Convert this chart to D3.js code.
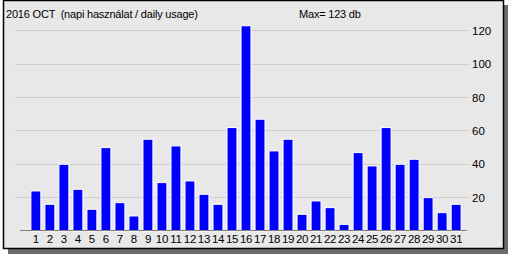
<!DOCTYPE html>
<html>
<head>
<meta charset="utf-8">
<script src="https://cdn.jsdelivr.net/npm/d3@7"></script>
<style>
  body { margin: 0; background: #fff; }
  text { font-family: "Liberation Sans", Arial, sans-serif; font-size: 11.5px; fill: #000; white-space: pre; }
  .head { font-size: 11px; letter-spacing: -0.2px; }
</style>
</head>
<body>
<svg id="chart" width="508" height="254"></svg>
<script>
// daily usage, October 2016
var days = d3.range(1, 32).map(String);
var usage = [24, 16, 40, 25, 13, 50, 17, 9, 55, 29,
             51, 30, 22, 16, 62, 123, 67, 48, 55, 10,
             18, 14, 4, 47, 39, 62, 40, 43, 20, 11, 16];
var yTicks = [20, 40, 60, 80, 100, 120];
var title = "2016 OCT  (napi használat / daily usage)";
var maxLabel = "Max= " + d3.max(usage) + " db";

var svg = d3.select("#chart");

// window frame with drop shadow
svg.append("rect").attr("x", 8).attr("y", 5).attr("width", 500).attr("height", 249).style("fill", "#6b6b6b");
svg.append("rect").attr("x", 3.5).attr("y", 0.5).attr("width", 500).attr("height", 248)
    .style("fill", "#e8e8e8").style("stroke", "#000").style("stroke-width", 1.5);

var x0 = 15, x1 = 470, y0 = 230.5;

var x = d3.scaleBand()
    .domain(days)
    .range([29, 463])
    .paddingInner(0.22)
    .paddingOuter(0.1);

var y = d3.scaleLinear()
    .domain([0, 120])
    .range([y0, 30.3]);

// grid
svg.selectAll(".grid")
    .data(yTicks)
    .enter().append("line")
    .attr("class", "grid")
    .attr("x1", x0).attr("x2", x1)
    .attr("y1", d => Math.round(y(d)) + 0.5)
    .attr("y2", d => Math.round(y(d)) + 0.5)
    .style("stroke", "#cfcfcf");

// y labels on the right
svg.selectAll(".ylab")
    .data(yTicks)
    .enter().append("text")
    .attr("class", "ylab")
    .attr("x", 472)
    .attr("y", d => y(d) + 4.5)
    .text(d => d);

// bars
svg.selectAll(".bar")
    .data(usage)
    .enter().append("rect")
    .attr("class", "bar")
    .attr("x", (d, i) => x(days[i]) + 0.5)
    .attr("y", d => y(d) + 0.5)
    .attr("width", x.bandwidth() - 1)
    .attr("height", d => y0 - y(d))
    .style("fill", "#0000ff")
    .style("stroke", "#fff")
    .style("stroke-width", 1);

// x axis line
svg.append("line")
    .attr("x1", 20).attr("x2", 467)
    .attr("y1", 230.5).attr("y2", 230.5)
    .style("stroke", "#808080");

// x labels
svg.selectAll(".xlab")
    .data(days)
    .enter().append("text")
    .attr("class", "xlab")
    .attr("x", d => x(d) + x.bandwidth() / 2)
    .attr("y", 243)
    .attr("text-anchor", "middle")
    .style("letter-spacing", "-0.3px")
    .text(d => d);

// titles
svg.append("text").attr("class", "head").attr("x", 6).attr("y", 18).attr("xml:space", "preserve").text(title);
svg.append("text").attr("class", "head").attr("x", 299).attr("y", 18).text(maxLabel);
</script>
</body>
</html>
